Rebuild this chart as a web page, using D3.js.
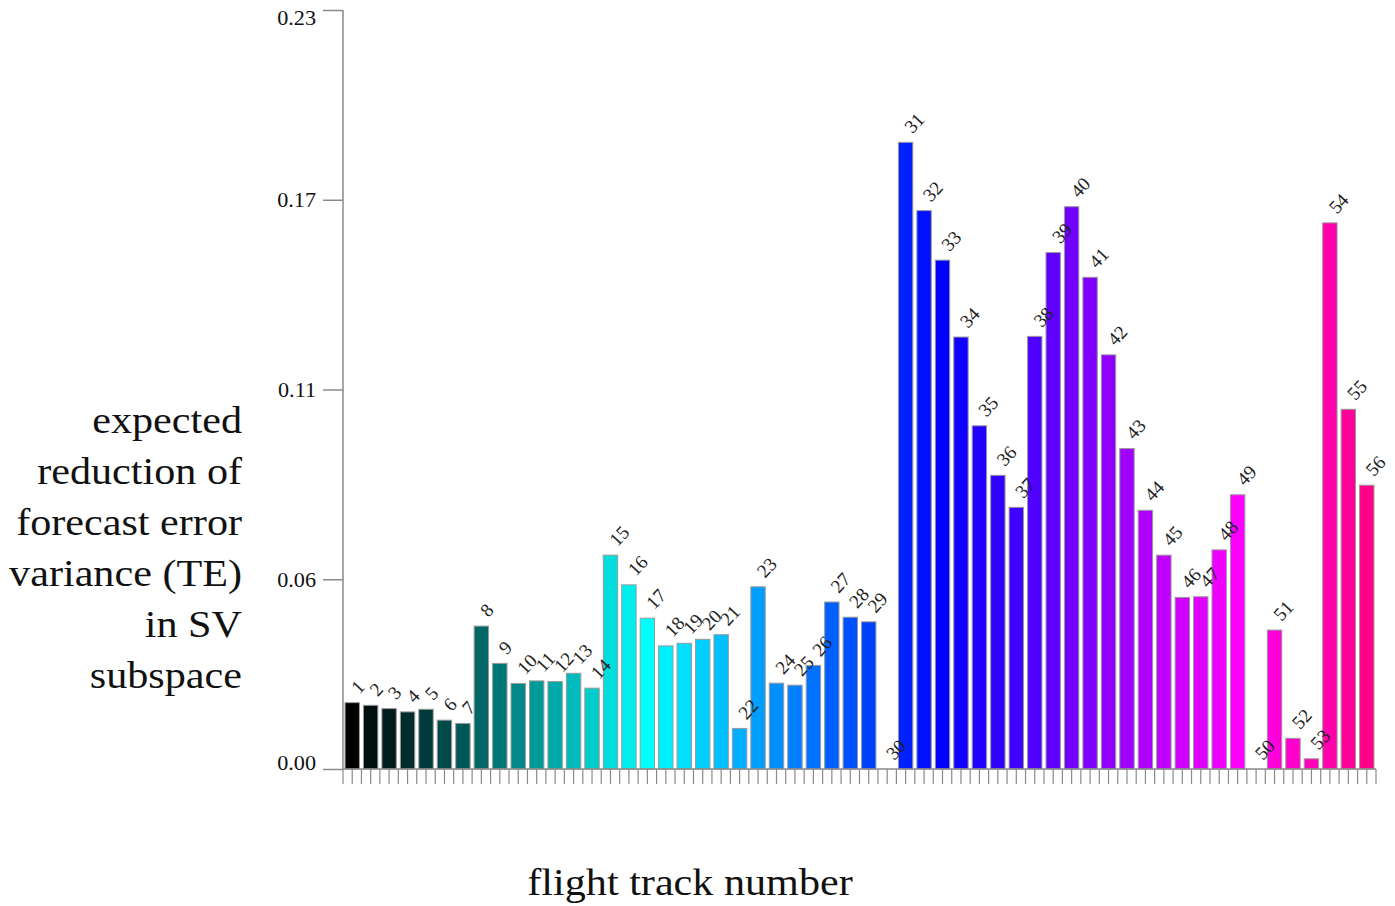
<!DOCTYPE html>
<html>
<head>
<meta charset="utf-8">
<script src="https://cdn.jsdelivr.net/npm/d3@7"></script>
<style>
  html, body { margin: 0; padding: 0; background: #fff; }
  svg { display: block; }
  text { font-family: "Liberation Serif", "Times New Roman", serif; fill: #111; }
</style>
</head>
<body>
<svg id="chart" width="1395" height="906"></svg>
<script>
// Flight track numbers (categories)
const tracks = [1, 2, 3, 4, 5, 6, 7, 8, 9, 10, 11, 12, 13, 14, 15, 16, 17, 18, 19, 20,
  21, 22, 23, 24, 25, 26, 27, 28, 29, 30, 31, 32, 33, 34, 35, 36, 37, 38, 39, 40,
  41, 42, 43, 44, 45, 46, 47, 48, 49, 50, 51, 52, 53, 54, 55, 56];

// Expected reduction of forecast error variance (TE) in SV subspace, per track
const teReduction = [0.0201, 0.0193, 0.0183, 0.0173, 0.0181, 0.0148, 0.0138, 0.0433, 0.0320, 0.0259,
  0.0267, 0.0265, 0.0290, 0.0245, 0.0648, 0.0558, 0.0457, 0.0373, 0.0381, 0.0393,
  0.0407, 0.0123, 0.0552, 0.0260, 0.0254, 0.0314, 0.0506, 0.0460, 0.0446, 0.0000,
  0.1899, 0.1692, 0.1542, 0.1309, 0.1040, 0.0890, 0.0793, 0.1311, 0.1565, 0.1704,
  0.1490, 0.1255, 0.0971, 0.0784, 0.0648, 0.0520, 0.0522, 0.0664, 0.0831, 0.0000,
  0.0421, 0.0093, 0.0031, 0.1655, 0.1090, 0.0860];

// Y axis: four equal divisions of [0, 0.23], labelled to two decimals
const yTickValues = [0, 0.0575, 0.115, 0.1725, 0.23];
const yTickLabels = ["0.00", "0.06", "0.11", "0.17", "0.23"];

const yTitleLines = ["expected", "reduction of", "forecast error", "variance (TE)", "in SV", "subspace"];
const xTitle = "flight track number";

// Colour ramp along the track numbers
const colorStopTracks = [1, 8, 17, 33, 49, 56];
const colorStopValues = ["#000000", "#006666", "#00ffff", "#0000ff", "#ff00ff", "#ff0088"];

const svg = d3.select("#chart");
const plot = { left: 343, right: 1376, top: 10, bottom: 769 };
const axisColor = "#8a8a8a";
const stretch = 1.11; // the serif text is set slightly wide

const x = d3.scaleBand()
  .domain(tracks)
  .range([plot.left, plot.right])
  .paddingInner(0.22)
  .paddingOuter(0.11);

const y = d3.scaleLinear()
  .domain([0, 0.23])
  .range([plot.bottom, plot.top]);

const color = d3.scaleLinear()
  .domain(colorStopTracks)
  .range(colorStopValues);

const data = tracks.map((t, i) => ({ track: t, value: teReduction[i] }));

// Bars
svg.append("g")
  .selectAll("rect")
  .data(data)
  .join("rect")
  .attr("x", d => x(d.track))
  .attr("y", d => y(d.value))
  .attr("width", x.bandwidth())
  .attr("height", d => y(0) - y(d.value))
  .attr("fill", d => color(d.track))
  .attr("stroke", "#9a9a9a")
  .attr("stroke-width", 1);

// Value labels: track number, rotated, above each bar
svg.append("g")
  .selectAll("text")
  .data(data)
  .join("text")
  .attr("transform", d => `translate(${x(d.track) + x.bandwidth() / 2 + 7},${y(d.value) - 8}) rotate(-47)`)
  .attr("text-anchor", "start")
  .style("font-size", "19px")
  .style("fill", "#222")
  .text(d => d.track);

// Y axis
const yAxis = d3.axisLeft(y)
  .tickValues(yTickValues)
  .tickFormat((d, i) => yTickLabels[i])
  .tickSize(20)
  .tickPadding(7);

const gy = svg.append("g")
  .attr("transform", `translate(${plot.left},0)`)
  .call(yAxis);
gy.select(".domain").attr("stroke", axisColor).attr("stroke-width", 1.5)
  .attr("d", `M0,${plot.top}V${plot.bottom}`);
gy.selectAll(".tick line").attr("stroke", axisColor).attr("stroke-width", 1.5);
gy.selectAll(".tick text")
  .style("font-family", "'Liberation Serif', 'Times New Roman', serif")
  .style("font-size", "20px")
  .attr("fill", "#111")
  .attr("dy", (d, i) => i === 0 ? "0em" : (i === yTickValues.length - 1 ? "0.72em" : "0.34em"))
  .each(function () {
    const t = d3.select(this);
    const tx = +t.attr("x");
    t.attr("x", null)
     .attr("transform", `translate(${tx},0) scale(${stretch},1)`);
  });

// X axis: baseline plus ticks at every band edge and band centre
const halfStep = x.step() / 2;
const xTickPositions = [];
tracks.forEach(t => {
  const start = x(t) - x.step() * x.paddingInner() / 2;
  xTickPositions.push(start, start + halfStep);
});
xTickPositions.push(plot.right);

const gx = svg.append("g");
gx.append("line")
  .attr("x1", plot.left).attr("x2", plot.right)
  .attr("y1", y(0)).attr("y2", y(0))
  .attr("stroke", axisColor).attr("stroke-width", 1.5);
gx.selectAll("line.tick")
  .data(xTickPositions)
  .join("line")
  .attr("class", "tick")
  .attr("x1", d => d).attr("x2", d => d)
  .attr("y1", y(0)).attr("y2", y(0) + 15)
  .attr("stroke", axisColor).attr("stroke-width", 1.2);

// Axis titles
const yTitle = svg.append("g");
yTitle.selectAll("text")
  .data(yTitleLines)
  .join("text")
  .attr("text-anchor", "end")
  .attr("transform", (d, i) => `translate(242,${433 + i * 51}) scale(${stretch},1)`)
  .style("font-size", "38px")
  .text(d => d);

svg.append("text")
  .attr("text-anchor", "middle")
  .attr("transform", `translate(690,895) scale(${stretch},1)`)
  .style("font-size", "38px")
  .text(xTitle);
</script>
</body>
</html>
